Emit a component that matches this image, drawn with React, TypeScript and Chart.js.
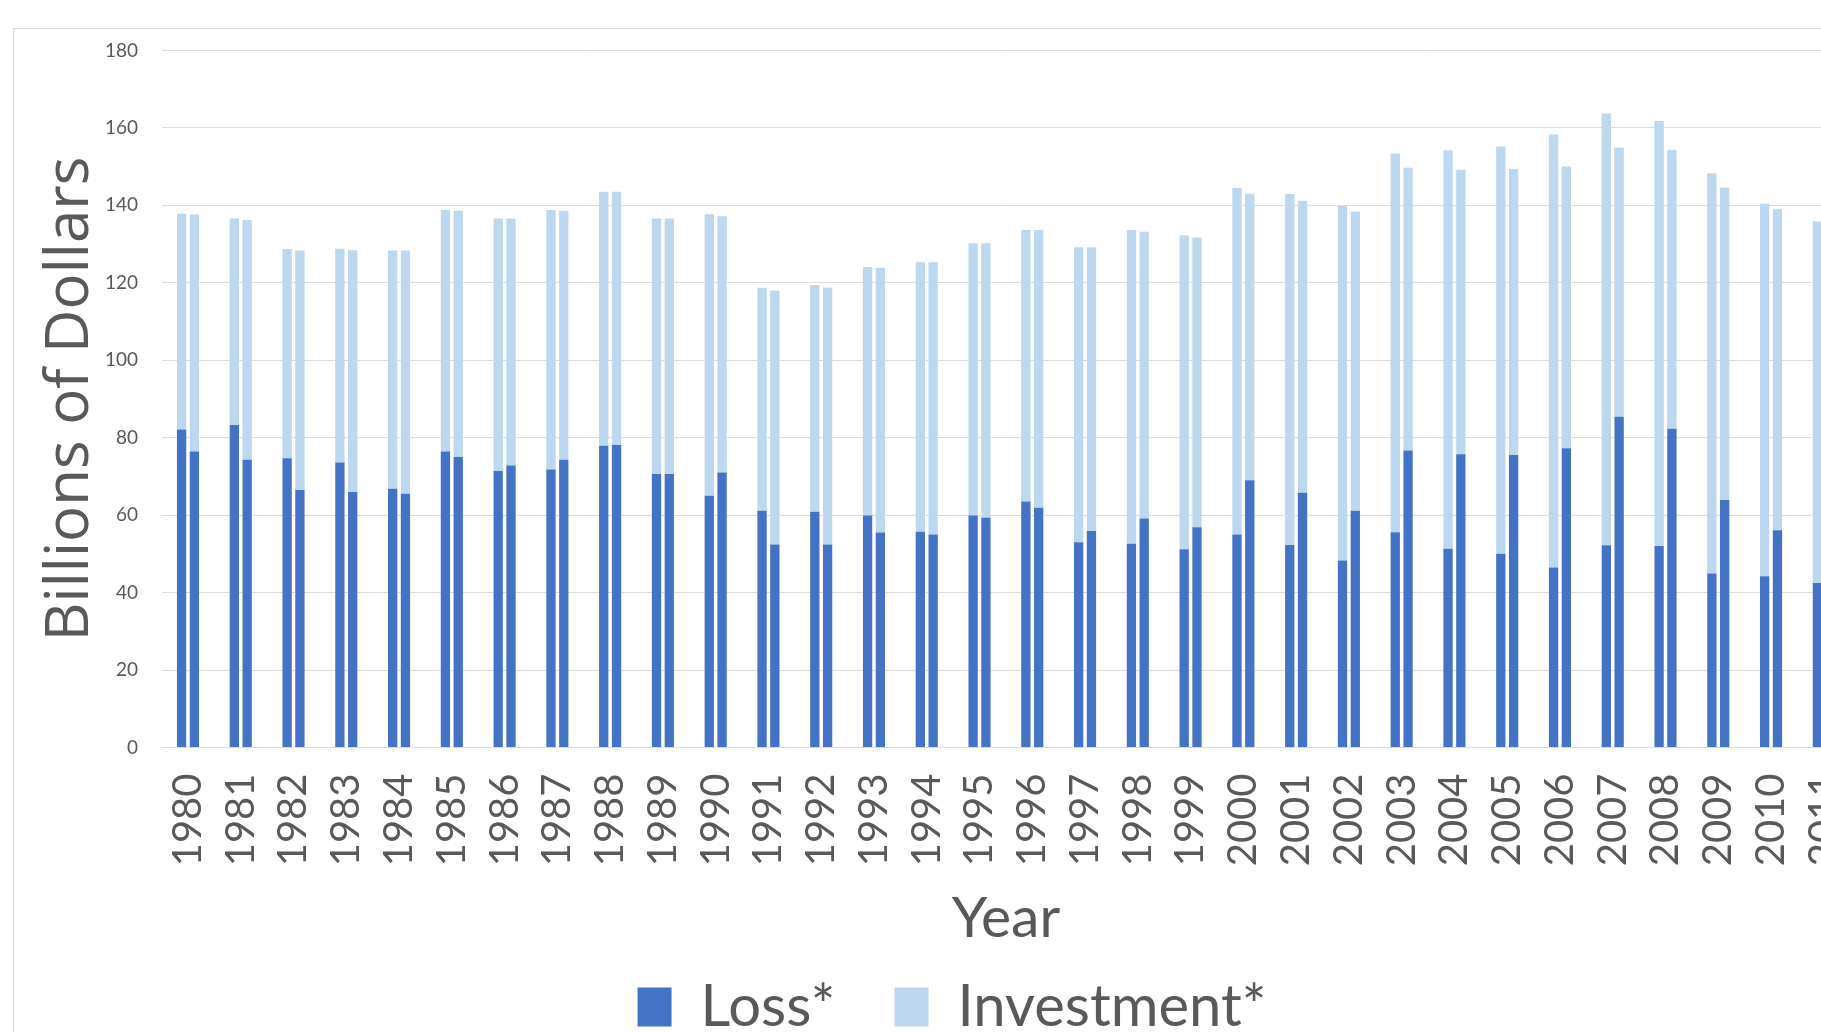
import React, { useEffect, useRef } from "react";
import { Chart, registerables } from "chart.js";

Chart.register(...registerables);

// Years on the category axis
const years = [
  "1980", "1981", "1982", "1983", "1984", "1985", "1986", "1987",
  "1988", "1989", "1990", "1991", "1992", "1993", "1994", "1995",
  "1996", "1997", "1998", "1999", "2000", "2001", "2002", "2003",
  "2004", "2005", "2006", "2007", "2008", "2009", "2010", "2011",
];

// Left bar of each year (billions of dollars)
const lossA = [
  82.1, 83.3, 74.7, 73.6, 66.8, 76.4, 71.4, 71.8,
  77.9, 70.6, 65.0, 61.1, 60.9, 59.9, 55.7, 59.9,
  63.5, 53.0, 52.6, 51.2, 55.0, 52.3, 48.3, 55.6,
  51.3, 50.0, 46.5, 52.2, 52.0, 44.9, 44.2, 42.5,
];
const investmentA = [
  55.7, 53.3, 54.0, 55.2, 61.5, 62.4, 65.2, 67.0,
  65.6, 66.0, 72.7, 57.6, 58.5, 64.2, 69.6, 70.3,
  70.1, 76.2, 81.0, 81.0, 89.5, 90.6, 91.5, 97.8,
  102.9, 105.2, 111.8, 111.5, 109.8, 103.4, 96.2, 93.3,
];

// Right bar of each year (billions of dollars)
const lossB = [
  76.4, 74.3, 66.5, 66.0, 65.5, 75.0, 72.8, 74.3,
  78.1, 70.6, 71.0, 52.4, 52.4, 55.5, 55.0, 59.3,
  61.9, 55.9, 59.1, 56.9, 69.0, 65.8, 61.1, 76.7,
  75.7, 75.5, 77.3, 85.4, 82.3, 63.9, 56.1, 54.0,
];
const investmentB = [
  61.2, 61.9, 61.8, 62.4, 62.8, 63.6, 63.8, 64.3,
  65.4, 66.0, 66.2, 65.6, 66.4, 68.4, 70.3, 70.9,
  71.7, 73.3, 74.1, 74.8, 74.0, 75.4, 77.3, 73.0,
  73.5, 73.9, 72.7, 69.5, 72.0, 80.7, 82.9, 81.0,
];

const yMin = 0;
const yMax = 180;
const yStep = 20;

const LOSS_COLOR = "#4472C4";
const INVESTMENT_COLOR = "#BDD7EE";
const TEXT_COLOR = "#595959";
const GRID_COLOR = "#dcdcdc";
const FONT = "Lato, 'Open Sans', sans-serif";
const TITLE_FONT = "'Open Sans', Lato, sans-serif";

const CANVAS_W = 1876;
const CANVAS_H = 1017;

// Fix an axis box to an exact size and drop the label overflow padding
const fixBox = (size: { width?: number; height?: number }) => (scale: any) => {
  if (size.width !== undefined) scale.width = size.width;
  if (size.height !== undefined) scale.height = size.height;
  scale.paddingTop = 0;
  scale.paddingBottom = 0;
  scale.paddingLeft = 0;
  scale.paddingRight = 0;
};

export default function App() {
  const canvasRef = useRef<HTMLCanvasElement>(null);

  useEffect(() => {
    if (!canvasRef.current) return;
    const chart = new Chart(canvasRef.current, {
      type: "bar",
      data: {
        labels: years,
        datasets: [
          { label: "Loss*", data: lossA, backgroundColor: LOSS_COLOR, stack: "a" },
          { label: "Investment*", data: investmentA, backgroundColor: INVESTMENT_COLOR, stack: "a" },
          { label: "Loss*", data: lossB, backgroundColor: LOSS_COLOR, stack: "b" },
          { label: "Investment*", data: investmentB, backgroundColor: INVESTMENT_COLOR, stack: "b" },
        ],
      },
      options: {
        animation: false,
        responsive: false,
        maintainAspectRatio: false,
        events: [],
        layout: { padding: { top: 21.4, left: 0, right: 0, bottom: 0 } },
        datasets: {
          bar: { categoryPercentage: 0.485, barPercentage: 0.727, borderWidth: 0 },
        },
        plugins: {
          tooltip: { enabled: false },
          legend: {
            position: "bottom",
            labels: {
              filter: (item: any) => item.datasetIndex < 2,
              boxWidth: 34,
              boxHeight: 39,
              padding: 59,
              color: TEXT_COLOR,
              font: { family: FONT, size: 58 },
            },
          },
        },
        scales: {
          x: {
            stacked: true,
            grid: { display: false, drawTicks: false },
            border: { display: false },
            ticks: {
              color: TEXT_COLOR,
              font: { family: FONT, size: 40 },
              minRotation: 90,
              maxRotation: 90,
              autoSkip: false,
              padding: 26,
            },
            title: {
              display: true,
              text: "Year",
              color: TEXT_COLOR,
              font: { family: FONT, size: 57, lineHeight: 1.2 },
              padding: { top: 0, bottom: -34.2 },
            },
            afterFit: fixBox({ height: 171.5 }),
          },
          y: {
            stacked: true,
            min: yMin,
            max: yMax,
            ticks: {
              stepSize: yStep,
              color: TEXT_COLOR,
              font: { family: FONT, size: 19 },
              padding: 23.6,
            },
            grid: { color: GRID_COLOR, lineWidth: 1, drawTicks: false },
            border: { display: false },
            title: {
              display: true,
              text: "Billions of Dollars",
              color: TEXT_COLOR,
              font: { family: TITLE_FONT, size: 60, lineHeight: 1.2 },
              padding: { top: 21, bottom: 0 },
            },
            afterFit: fixBox({ width: 147.6 }),
          },
          yEdge: {
            type: "linear",
            position: "right",
            display: true,
            grid: { display: false, drawTicks: false },
            border: { display: false },
            ticks: { display: false },
            afterFit: fixBox({ width: 39.8 }),
          },
        },
      } as any,
    });
    return () => chart.destroy();
  }, []);

  return (
    <div
      style={{
        position: "fixed",
        left: 0,
        top: 0,
        width: 1821,
        height: 1032,
        overflow: "hidden",
        background: "#ffffff",
      }}
    >
      <div
        style={{
          position: "absolute",
          left: 13,
          top: 28,
          width: CANVAS_W + 2,
          height: CANVAS_H + 2,
          boxSizing: "border-box",
          border: "1px solid #d9d9d9",
          background: "#ffffff",
        }}
      >
        <canvas
          ref={canvasRef}
          width={CANVAS_W}
          height={CANVAS_H}
          style={{ display: "block", width: CANVAS_W, height: CANVAS_H }}
        />
      </div>
    </div>
  );
}
